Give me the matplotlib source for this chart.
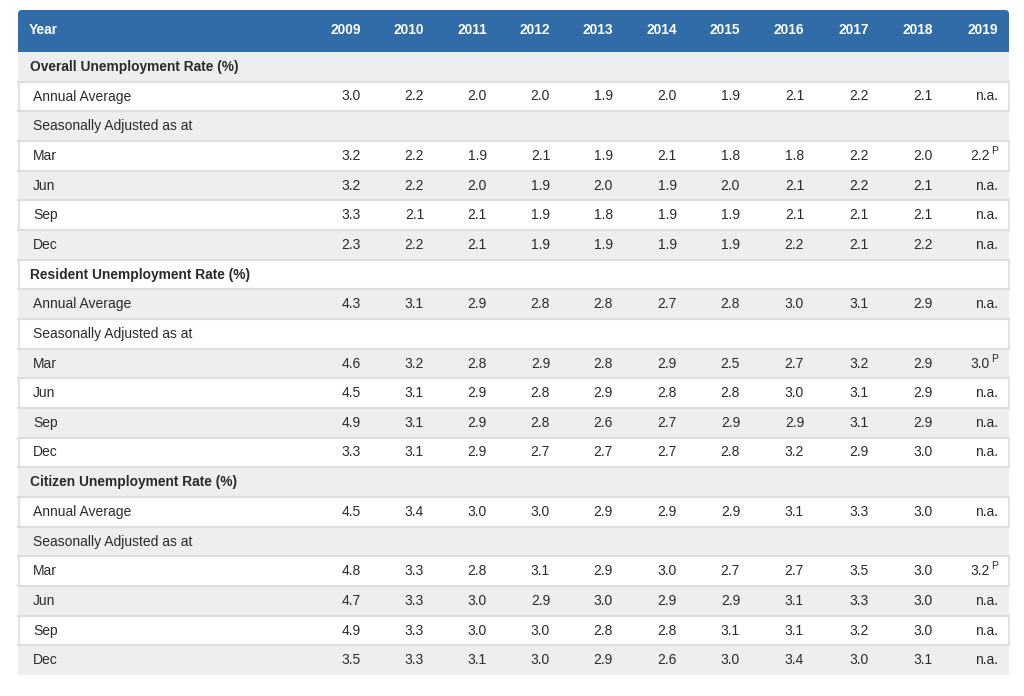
import matplotlib
matplotlib.use("Agg")
import matplotlib.pyplot as plt
from matplotlib.patches import Rectangle, FancyBboxPatch

plt.rcParams['font.family'] = ['Liberation Sans', 'DejaVu Sans']

# table content
years = [2009, 2010, 2011, 2012, 2013, 2014, 2015, 2016, 2017, 2018, 2019]
sections = ["Overall Unemployment Rate (%)",
            "Resident Unemployment Rate (%)",
            "Citizen Unemployment Rate (%)"]
row_labels = ["Annual Average", "Seasonally Adjusted as at", "Mar", "Jun", "Sep", "Dec"]
provisional_rows = ["Mar"]   # 2019 value flagged with superscript P

# None = n.a.
overall_annual = [3.0, 2.2, 2.0, 2.0, 1.9, 2.0, 1.9, 2.1, 2.2, 2.1, None]
overall_mar = [3.2, 2.2, 1.9, 2.1, 1.9, 2.1, 1.8, 1.8, 2.2, 2.0, 2.2]
overall_jun = [3.2, 2.2, 2.0, 1.9, 2.0, 1.9, 2.0, 2.1, 2.2, 2.1, None]
overall_sep = [3.3, 2.1, 2.1, 1.9, 1.8, 1.9, 1.9, 2.1, 2.1, 2.1, None]
overall_dec = [2.3, 2.2, 2.1, 1.9, 1.9, 1.9, 1.9, 2.2, 2.1, 2.2, None]

resident_annual = [4.3, 3.1, 2.9, 2.8, 2.8, 2.7, 2.8, 3.0, 3.1, 2.9, None]
resident_mar = [4.6, 3.2, 2.8, 2.9, 2.8, 2.9, 2.5, 2.7, 3.2, 2.9, 3.0]
resident_jun = [4.5, 3.1, 2.9, 2.8, 2.9, 2.8, 2.8, 3.0, 3.1, 2.9, None]
resident_sep = [4.9, 3.1, 2.9, 2.8, 2.6, 2.7, 2.9, 2.9, 3.1, 2.9, None]
resident_dec = [3.3, 3.1, 2.9, 2.7, 2.7, 2.7, 2.8, 3.2, 2.9, 3.0, None]

citizen_annual = [4.5, 3.4, 3.0, 3.0, 2.9, 2.9, 2.9, 3.1, 3.3, 3.0, None]
citizen_mar = [4.8, 3.3, 2.8, 3.1, 2.9, 3.0, 2.7, 2.7, 3.5, 3.0, 3.2]
citizen_jun = [4.7, 3.3, 3.0, 2.9, 3.0, 2.9, 2.9, 3.1, 3.3, 3.0, None]
citizen_sep = [4.9, 3.3, 3.0, 3.0, 2.8, 2.8, 3.1, 3.1, 3.2, 3.0, None]
citizen_dec = [3.5, 3.3, 3.1, 3.0, 2.9, 2.6, 3.0, 3.4, 3.0, 3.1, None]

section_values = [
    [overall_annual, None, overall_mar, overall_jun, overall_sep, overall_dec],
    [resident_annual, None, resident_mar, resident_jun, resident_sep, resident_dec],
    [citizen_annual, None, citizen_mar, citizen_jun, citizen_sep, citizen_dec],
]

# build flat list of rows: (kind, label, values)
rows = []
for name, vals in zip(sections, section_values):
    rows.append(("section", name, None))
    for lab, v in zip(row_labels, vals):
        rows.append(("data", lab, v))

# layout (pixels)
W, H = 1024, 696
left, right = 18, 1009
head_top, head_bot = 10, 52
row_h = (675 - head_bot) / len(rows)
col_right = [361, 424, 487, 550, 613, 677, 740, 804, 869, 933, 998]

blue = "#2f6ca8"
gray = "#eeeeee"
line = "#dedede"
txt = "#2a2a2a"

fig = plt.figure(figsize=(W / 100, H / 100), dpi=100)
ax = fig.add_axes([0, 0, 1, 1])
ax.set_xlim(0, W)
ax.set_ylim(H, 0)
ax.axis("off")

# header
ax.add_patch(FancyBboxPatch((left, head_top), right - left, head_bot - head_top + 6,
                            boxstyle="round,pad=0,rounding_size=4",
                            fc=blue, ec="none", zorder=1))
ax.add_patch(Rectangle((left, head_bot), right - left, 8, fc="white", ec="none", zorder=1.5))
hy = (head_top + head_bot) / 2 - 1
ax.text(29, hy, "Year", color="white", fontsize=9.9, fontweight="bold",
        va="center", ha="left", zorder=3)
for x, yr in zip(col_right, years):
    ax.text(x, hy, str(yr), color="white", fontsize=9.9, fontweight="bold",
            va="center", ha="right", zorder=3)

for i, (kind, label, vals) in enumerate(rows):
    y0 = head_bot + i * row_h
    yc = y0 + row_h / 2
    fc = gray if i % 2 == 0 else "white"
    ax.add_patch(Rectangle((left, y0), right - left, row_h, fc=fc, ec="none", zorder=1.6))
    if fc == "white":
        ax.plot([left + 0.5, left + 0.5], [y0, y0 + row_h], color=line, lw=1.2, zorder=2)
        ax.plot([right - 0.5, right - 0.5], [y0, y0 + row_h], color=line, lw=1.2, zorder=2)
    if i > 0:
        ax.plot([left, right], [y0, y0], color=line, lw=1.6, zorder=2)
    if kind == "section":
        ax.text(30, yc, label, color=txt, fontsize=9.9, fontweight="bold",
                va="center", ha="left", zorder=3)
        continue
    ax.text(33, yc, label, color=txt, fontsize=10, va="center", ha="left", zorder=3)
    if vals is None:
        continue
    for j, (x, v) in enumerate(zip(col_right, vals)):
        if v is None:
            ax.text(x, yc, "n.a.", color=txt, fontsize=10, va="center", ha="right", zorder=3)
        elif j == len(years) - 1 and label in provisional_rows:
            ax.text(x, yc - 5, "P", color=txt, fontsize=7.5, va="center", ha="right", zorder=3)
            ax.text(x - 8.5, yc, f"{v:.1f}", color=txt, fontsize=10, va="center", ha="right", zorder=3)
        else:
            ax.text(x, yc, f"{v:.1f}", color=txt, fontsize=10, va="center", ha="right", zorder=3)

fig.savefig("out.png", dpi=100, facecolor="white")
